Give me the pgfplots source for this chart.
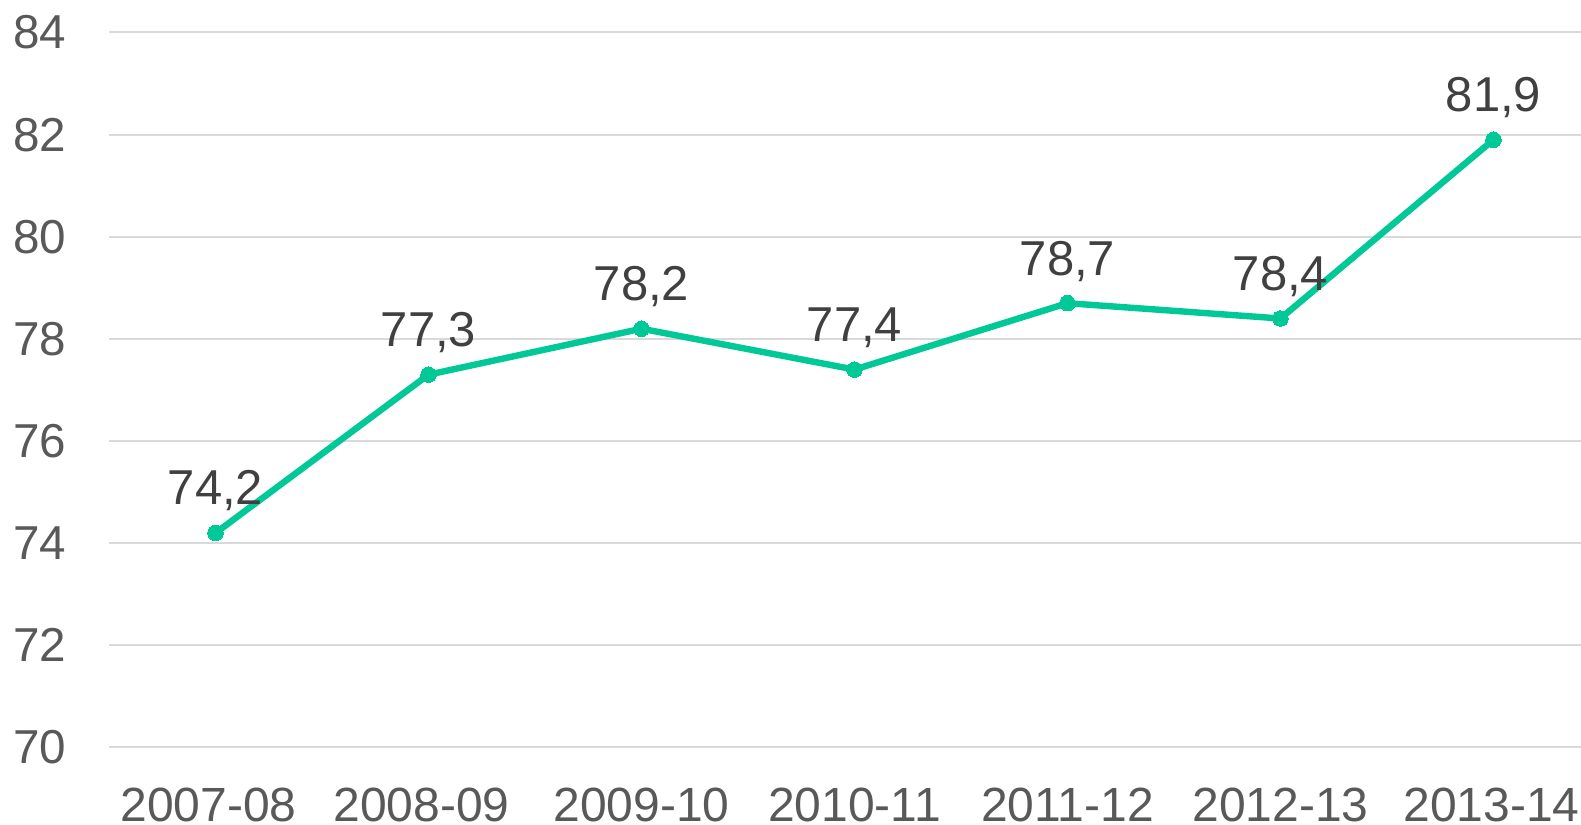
\documentclass[border=0pt]{standalone}
\usepackage{pgfplots}
\pgfplotsset{compat=1.18}
\usepackage{fontspec}
\setmainfont{Liberation Sans}
\definecolor{linegreen}{HTML}{00C896}
\definecolor{gridgray}{HTML}{D9D9D9}
\definecolor{ticktext}{HTML}{595959}
\definecolor{labeltext}{HTML}{404040}
\begin{document}
\begin{tikzpicture}
\path[use as bounding box] (-54.5pt,-38.75pt) rectangle (736pt,373.75pt);
\begin{axis}[
  scale only axis, width=736pt, height=357.5pt,
  xmin=-0.5, xmax=6.411, ymin=70, ymax=84,
  ytick={70,72,...,84},
  xtick={0,...,6},
  xticklabels={\hspace*{-7pt}2007-08,\hspace*{-7pt}2008-09,2009-10,2010-11,2011-12,2012-13,\hspace*{-2pt}2013-14},
  axis line style={draw=none},
  major tick length=0pt,
  ymajorgrids, grid style={gridgray, line width=1pt},
  tick label style={text=ticktext},
  yticklabel style={font=\fontsize{23.8}{28}\selectfont, anchor=east, inner sep=0pt, xshift=-21.25pt},
  xticklabel style={font=\fontsize{24}{28}\selectfont, anchor=north, inner sep=0pt, yshift=-20pt},
  /pgf/number format/assume math mode=true,
  nodes near coords, point meta=explicit symbolic,
  nodes near coords style={font=\fontsize{24.5}{28}\selectfont, text=labeltext, anchor=base, inner sep=0pt, yshift=14pt},
  clip=false,
]
\addplot[linegreen, line width=3.2pt, mark=*, mark size=3.9pt, mark options={fill=linegreen, draw=linegreen, line width=0pt}]
  coordinates {
    (0,74.2) [{74,2}]
    (1,77.3) [{77,3}]
    (2,78.2) [{78,2}]
    (3,77.4) [{77,4}]
    (4,78.7) [{78,7}]
    (5,78.4) [{78,4}]
    (6,81.9) [{81,9}]
  };
\end{axis}
\end{tikzpicture}
\end{document}
